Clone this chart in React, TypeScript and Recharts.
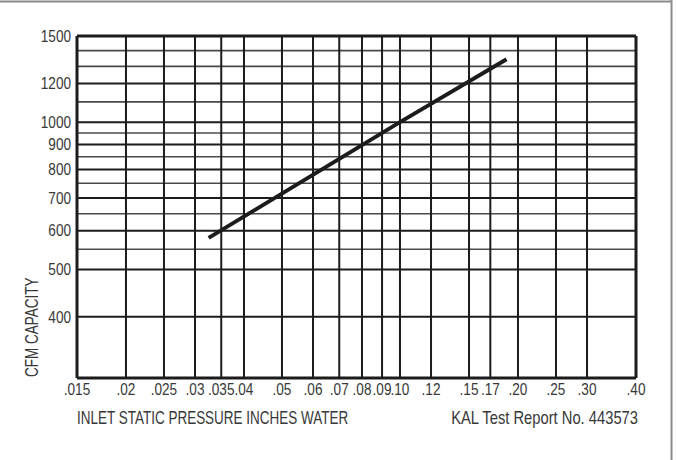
import React from 'react';
import { LineChart, Line, XAxis, YAxis, ReferenceLine } from 'recharts';

// values
const pressure = [0.0325, 0.1, 0.187];
const cfm = [580, 1000, 1345];

const xTicks = [0.015, 0.02, 0.025, 0.03, 0.035, 0.04, 0.05, 0.06, 0.07, 0.08, 0.09, 0.1, 0.12, 0.15, 0.17, 0.2, 0.25, 0.3, 0.4];
const yTicks = [400, 500, 550, 600, 650, 700, 750, 800, 850, 900, 950, 1000, 1100, 1200, 1300, 1400, 1500];
const yLabeled = [400, 500, 600, 700, 800, 900, 1000, 1200, 1500];

const FONT = '"Liberation Sans", Arial, sans-serif';
const INK = '#1c1c1c';
const TXT = '#383838';

const chartData = pressure.map((p, i) => ({ p, cfm: cfm[i] }));

const fmtX = (v: number) => {
  const s = v.toFixed(3).replace(/^0/, '');
  return s.endsWith('0') ? s.slice(0, -1) : s;
};

// condensed look: squeeze the text horizontally
const XTick = (props: any) => {
  const { x, y, payload } = props;
  return (
    <text
      transform={`translate(${x},${y}) scale(0.85,1)`}
      textAnchor="middle"
      dy="0.71em"
      fill={TXT}
      fontSize={16}
      fontFamily={FONT}
    >
      {fmtX(payload.value)}
    </text>
  );
};

const YTick = (props: any) => {
  const { x, y, payload } = props;
  if (!yLabeled.includes(payload.value)) return <g />;
  return (
    <text
      transform={`translate(${x},${y}) scale(0.85,1)`}
      textAnchor="end"
      dy="0.355em"
      fill={TXT}
      fontSize={16}
      fontFamily={FONT}
    >
      {payload.value}
    </text>
  );
};

export default function App() {
  return (
    <div style={{ position: 'absolute', left: 0, top: 0, width: 677, height: 460, background: '#fff' }}>
      <LineChart
        width={677}
        height={460}
        data={chartData}
        margin={{ top: 36, right: 41, bottom: 52, left: 17 }}
      >
        <XAxis
          type="number"
          dataKey="p"
          scale="log"
          domain={[0.015, 0.4]}
          ticks={xTicks}
          allowDataOverflow
          interval={0}
          tickLine={false}
          tickSize={0}
          tickMargin={6}
          height={30}
          axisLine={false}
          tick={<XTick />}
        />
        <YAxis
          type="number"
          scale="log"
          domain={[300, 1500]}
          ticks={yTicks}
          allowDataOverflow
          interval={0}
          tickLine={false}
          tickSize={0}
          tickMargin={6}
          width={60}
          axisLine={false}
          tick={<YTick />}
        />
        {yTicks.map((v) => (
          <ReferenceLine
            key={'h' + v}
            y={v}
            stroke={yLabeled.includes(v) ? INK : '#4a4a4a'}
            strokeWidth={yLabeled.includes(v) ? 2 : 1.6}
          />
        ))}
        {xTicks.map((v) => (
          <ReferenceLine key={'v' + v} x={v} stroke={INK} strokeWidth={2} />
        ))}
        <ReferenceLine y={300} stroke={INK} strokeWidth={3} />
        <ReferenceLine y={1500} stroke={INK} strokeWidth={3} />
        <ReferenceLine x={0.015} stroke={INK} strokeWidth={3} />
        <ReferenceLine x={0.4} stroke={INK} strokeWidth={3} />
        <Line
          type="linear"
          dataKey="cfm"
          stroke={INK}
          strokeWidth={4}
          dot={false}
          activeDot={false}
          isAnimationActive={false}
        />
      </LineChart>
      <svg
        width={677}
        height={460}
        style={{ position: 'absolute', left: 0, top: 0, pointerEvents: 'none' }}
      >
        <line x1={0} y1={1.5} x2={672} y2={1.5} stroke="#8c8c8c" strokeWidth={2} />
        <line x1={671.5} y1={0} x2={671.5} y2={460} stroke="#8c8c8c" strokeWidth={2} />
        <text
          transform="translate(38 377) rotate(-90) scale(0.75,1)"
          fill={TXT}
          fontSize={18}
          fontFamily={FONT}
        >
          CFM CAPACITY
        </text>
        <text transform="translate(77 424) scale(0.75,1)" fill={TXT} fontSize={18} fontFamily={FONT}>
          INLET STATIC PRESSURE INCHES WATER
        </text>
        <text
          transform="translate(638 424) scale(0.82,1)"
          fill={TXT}
          fontSize={18}
          fontFamily={FONT}
          textAnchor="end"
        >
          KAL Test Report No. 443573
        </text>
      </svg>
    </div>
  );
}
